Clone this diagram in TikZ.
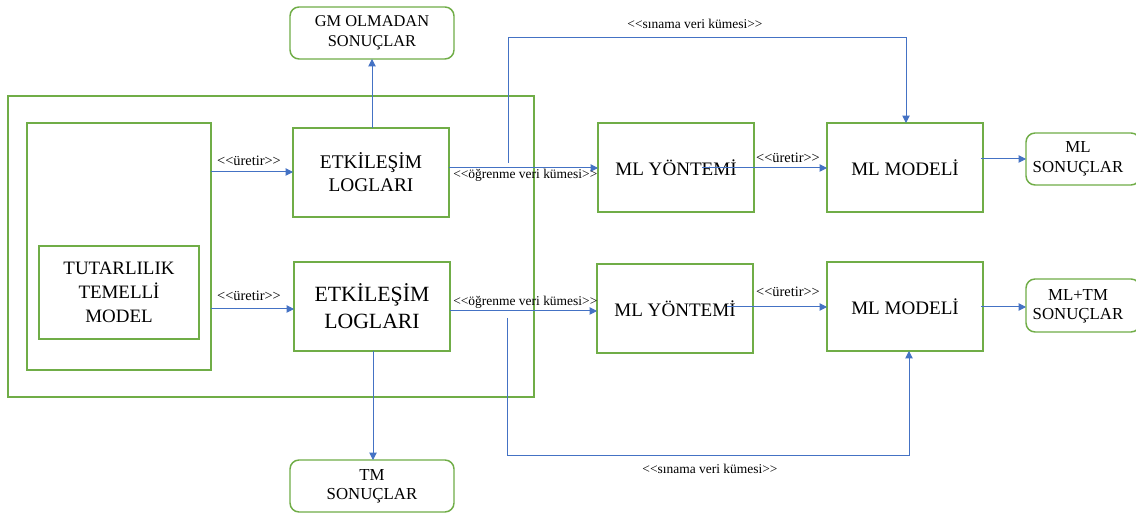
\documentclass[tikz,border=0pt]{standalone}
\usepackage{fontspec}
\setmainfont{Liberation Serif}
\usetikzlibrary{arrows.meta}
\definecolor{boxgreen}{HTML}{70AD47}
\definecolor{linkblue}{HTML}{4472C4}
\newcommand{\fsz}[2]{\fontsize{#1}{#2}\selectfont}
\begin{document}
\begin{tikzpicture}[x=0.75pt,y=-0.75pt,
  box/.style={draw=boxgreen, line width=1.1pt, inner sep=0pt, outer sep=0pt,
    align=center, text=black},
  resbox/.style={box, rounded corners=6.75pt, minimum width=123pt, minimum height=39pt,
    font=\fsz{12.6pt}{14.5pt}},
  procbox/.style={box, minimum width=117pt, minimum height=66.75pt},
  link/.style={draw=linkblue, line width=0.75pt, -{Triangle[length=5.5pt,width=5.5pt]}},
  tag/.style={inner sep=0pt, font=\fsz{10.1pt}{12pt}},
  gentag/.style={inner sep=0pt, font=\fsz{10.8pt}{12pt}}
]
\useasboundingbox (0,0) rectangle (1136,516);
\clip (0,0) rectangle (1136,516);
\fill[white] (0,0) rectangle (1136,516);

% left container with the consistency-based model
\node[box, minimum width=394.5pt, minimum height=225.75pt] (outer) at (271,246.5) {};
\node[box, minimum width=138pt, minimum height=185.25pt] (inner) at (119,246.5) {};
\node[box, minimum width=120pt, minimum height=69.75pt, font=\fsz{14.2pt}{18pt}]
  (tbm) at (119,292.5) {TUTARLILIK\\TEMELLİ\\MODEL};

% interaction logs
\node[procbox, font=\fsz{14.5pt}{17.25pt}] (etk1) at (371,172.5) {ETKİLEŞİM\\LOGLARI};
\node[procbox, font=\fsz{16.3pt}{20.25pt}] (etk2) at (372,306.5) {ETKİLEŞİM\\LOGLARI};

% result boxes
\node[resbox, font=\fsz{12.3pt}{15pt}] (gm) at (372,33) {GM OLMADAN\\SONUÇLAR};
\node[resbox] (tm) at (372,486) {TM\\SONUÇLAR};
\node[resbox, minimum width=85.5pt] (mlres1) at (1083,159) {};
\node[resbox, minimum width=85.5pt, minimum height=39.75pt] (mlres2) at (1083,305.5) {};
\node[font=\fsz{12.6pt}{15pt}, align=center, inner sep=0pt] (mlres1t) at (1078,159) {ML\\SONUÇLAR};
\node[font=\fsz{12.6pt}{14.5pt}, align=center, inner sep=0pt] (mlres2t) at (1078,306.5) {ML+TM\\SONUÇLAR};

% ML method and model boxes
\node[procbox, font=\fsz{14.3pt}{17pt}] (mly1) at (676,167.5) {ML YÖNTEMİ};
\node[procbox, font=\fsz{14.3pt}{17pt}] (mlm1) at (905,167.5) {ML MODELİ};
\node[procbox, font=\fsz{14.3pt}{17pt}] (mly2) at (675,308.5) {ML YÖNTEMİ};
\node[procbox, font=\fsz{14.3pt}{17pt}] (mlm2) at (905,306.5) {ML MODELİ};

% free ends of connectors
\coordinate (s1) at (508,163);
\coordinate (s2) at (507,318);
\coordinate (g1) at (702,168);
\coordinate (g2) at (727,307);

% model produces logs
\draw[link] (inner.east |- 0,172) -- (etk1.west |- 0,172);
\draw[link] (inner.east |- 0,309) -- (etk2.west |- 0,309);
\node[gentag] (u1) at (249,161) {<{}<üretir>{}>};
\node[gentag] (u2) at (249,296) {<{}<üretir>{}>};

% logs to results
\draw[link] (etk1.north -| 372,0) -- (gm.south);
\draw[link] (etk2.south -| 373,0) -- (tm.north -| 373,0);

% training sets
\draw[link] (etk1.east |- 0,168) -- (mly1.west |- 0,168);
\draw[link] (etk2.east |- 0,311) -- (mly2.west |- 0,311);
\node[tag, anchor=west] (o1) at (453,175) {<{}<öğrenme veri kümesi>{}>};
\node[tag, anchor=west] (o2) at (453,302) {<{}<öğrenme veri kümesi>{}>};

% test sets
\draw[link] (s1) -- (508,38) -- (906,38) -- (mlm1.north -| 906,0);
\draw[link] (s2) -- (507,456) -- (909,456) -- (mlm2.south -| 909,0);
\node[tag] (t1) at (695,24) {<{}<sınama veri kümesi>{}>};
\node[tag] (t2) at (710,469) {<{}<sınama veri kümesi>{}>};

% methods produce models
\draw[link] (g1) -- (mlm1.west |- g1);
\draw[link] (g2) -- (mlm2.west |- g2);
\node[gentag] (u3) at (788,158) {<{}<üretir>{}>};
\node[gentag] (u4) at (788,292) {<{}<üretir>{}>};

% models to results
\draw[link] (981,159) -- (mlres1.west);
\draw[link] (981,307) -- (mlres2.west |- 0,307);
\end{tikzpicture}
\end{document}
